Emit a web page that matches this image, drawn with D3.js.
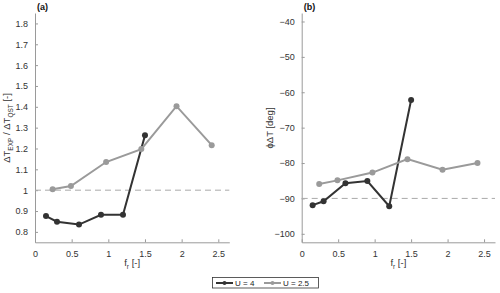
<!DOCTYPE html>
<html>
<head>
<meta charset="utf-8">
<script src="https://cdn.jsdelivr.net/npm/d3@7"></script>
<style>
body { margin: 0; background: #fff; }
svg { font-family: "Liberation Sans", Arial, sans-serif; }
.axis path, .axis line { stroke: #9a9a9a; }
.axis text { fill: #333; font-size: 9px; }
</style>
</head>
<body>
<div id="plot"></div>
<script>
var width = 500, height = 293;

// data
var fr4 = [0.15, 0.30, 0.60, 0.90, 1.20, 1.50];
var fr25 = [0.24, 0.49, 0.97, 1.45, 1.93, 2.41];
var ratio4 = [0.876, 0.849, 0.835, 0.882, 0.882, 1.263];
var ratio25 = [1.005, 1.020, 1.135, 1.197, 1.403, 1.216];
var phase4 = [-91.9, -90.8, -85.7, -85.1, -92.2, -62.2];
var phase25 = [-85.9, -84.9, -82.7, -78.9, -81.9, -80.0];
var xTicks = [0, 0.5, 1, 1.5, 2, 2.5];
var ratioTicks = [0.8, 0.9, 1, 1.1, 1.2, 1.3, 1.4, 1.5, 1.6, 1.7, 1.8];
var phaseTicks = [-100, -90, -80, -70, -60, -50, -40];
var seriesNames = ["U = 4", "U = 2.5"];
var seriesColors = ["#333333", "#9a9a9a"];

var svg = d3.select("#plot").append("svg").attr("width", width).attr("height", height);

function drawPanel(left, right, yDomain, yTicks, yFmt, ref, s4, s25, label) {
	var top = 13, bottom = 242.3;
	var x = d3.scaleLinear().domain([0, 2.65]).range([left, right]);
	var y = d3.scaleLinear().domain(yDomain).range([bottom, top]);
	var g = svg.append("g");

	g.append("g").attr("class", "axis").attr("transform", "translate(0," + bottom + ")")
		.call(d3.axisBottom(x).tickValues(xTicks).tickSizeInner(-3).tickSizeOuter(0).tickPadding(8)
			.tickFormat(function(d) { return d3.format("")(d); }));
	g.append("g").attr("class", "axis").attr("transform", "translate(" + left + ",0)")
		.call(d3.axisLeft(y).tickValues(yTicks).tickSizeInner(-3).tickSizeOuter(0).tickPadding(7)
			.tickFormat(yFmt));

	// reference dashed line
	g.append("line").attr("x1", left).attr("x2", right).attr("y1", y(ref)).attr("y2", y(ref))
		.attr("stroke", "#aaa").attr("stroke-width", 1).attr("stroke-dasharray", "6,4");

	var sets = [[fr4, s4], [fr25, s25]];
	sets.forEach(function(s, k) {
		var pts = s[0].map(function(d, i) { return [d, s[1][i]]; });
		g.append("path").datum(pts)
			.attr("fill", "none").attr("stroke", seriesColors[k]).attr("stroke-width", 2)
			.attr("d", d3.line().x(function(d) { return x(d[0]); }).y(function(d) { return y(d[1]); }));
		g.selectAll(".m" + k).data(pts).enter().append("circle")
			.attr("cx", function(d) { return x(d[0]); }).attr("cy", function(d) { return y(d[1]); })
			.attr("r", 3).attr("fill", seriesColors[k]);
	});

	g.append("text").attr("x", left + 2).attr("y", 10).attr("font-size", 9).attr("font-weight", "bold")
		.attr("fill", "#111").text(label);

	var xl = g.append("text").attr("x", (left + right) / 2).attr("y", 266)
		.attr("text-anchor", "middle").attr("font-size", 9.5).attr("fill", "#333");
	xl.append("tspan").text("f");
	xl.append("tspan").attr("font-size", 6.5).attr("dy", 3).text("r");
	xl.append("tspan").attr("dy", -3).text(" [-]");

	return g;
}

var ga = drawPanel(35, 229.3, [0.75, 1.85], ratioTicks, function(d) { return d3.format("")(+d.toFixed(1)); },
	1, ratio4, ratio25, "(a)");
var yla = ga.append("text").attr("transform", "translate(10,128) rotate(-90)")
	.attr("text-anchor", "middle").attr("font-size", 9.5).attr("fill", "#333");
yla.append("tspan").text("ΔT");
yla.append("tspan").attr("font-size", 6.5).attr("dy", 3).text("EXP");
yla.append("tspan").attr("dy", -3).text(" / ΔT");
yla.append("tspan").attr("font-size", 6.5).attr("dy", 3).text("QST");
yla.append("tspan").attr("dy", -3).text(" [-]");

var gb = drawPanel(301.7, 495, [-102.4, -37.6], phaseTicks, d3.format(""),
	-90, phase4, phase25, "(b)");
gb.append("text").attr("transform", "translate(273,128) rotate(-90)")
	.attr("text-anchor", "middle").attr("font-size", 9.5).attr("fill", "#333").text("ϕΔT [deg]");

// legend
var lg = svg.append("g");
lg.append("rect").attr("x", 212.5).attr("y", 277.5).attr("width", 106).attr("height", 10.5)
	.attr("fill", "#fff").attr("stroke", "#333").attr("stroke-width", 0.8);
var lx = [216, 264];
seriesNames.forEach(function(n, k) {
	lg.append("line").attr("x1", lx[k]).attr("x2", lx[k] + 17).attr("y1", 283).attr("y2", 283)
		.attr("stroke", seriesColors[k]).attr("stroke-width", 2);
	lg.append("circle").attr("cx", lx[k] + 8.5).attr("cy", 283).attr("r", 2).attr("fill", seriesColors[k]);
	lg.append("text").attr("x", lx[k] + 19).attr("y", 286).attr("font-size", 8).attr("fill", "#222").text(n);
});
</script>
</body>
</html>
